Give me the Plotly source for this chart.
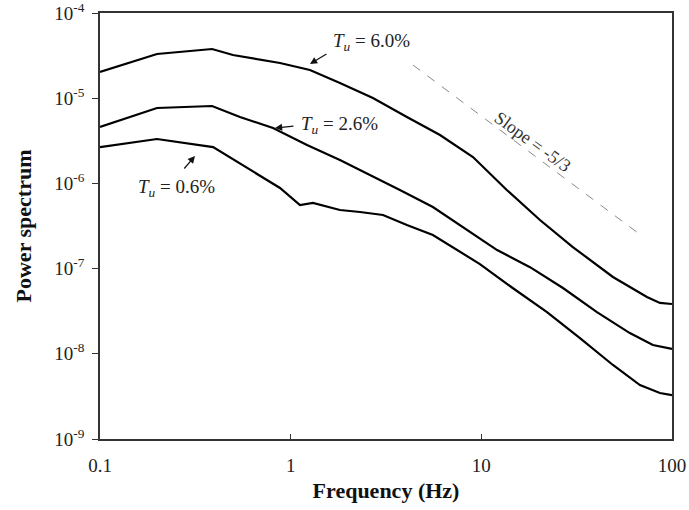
import plotly.graph_objects as go

# ---- data ----
freq_60 = [0.1, 0.199, 0.387, 0.498, 0.879, 1.262, 1.813, 2.70, 4.07, 6.07, 9.04, 13.6, 20.3, 30.2, 49.0, 73.9, 86.4, 100]
psd_60 = [2.03e-5, 3.30e-5, 3.78e-5, 3.21e-5, 2.59e-5, 2.14e-5, 1.51e-5, 1.005e-5, 6.02e-6, 3.70e-6, 2.04e-6, 8.37e-7, 3.72e-7, 1.79e-7, 7.97e-8, 4.64e-8, 3.95e-8, 3.84e-8]

freq_26 = [0.1, 0.199, 0.387, 0.542, 0.808, 1.218, 1.813, 2.31, 3.74, 5.57, 8.40, 12.1, 18.0, 26.8, 40.4, 60.1, 79.4, 100]
psd_26 = [4.59e-6, 7.67e-6, 8.10e-6, 6.02e-6, 4.47e-6, 2.82e-6, 1.88e-6, 1.44e-6, 8.37e-7, 5.28e-7, 2.84e-7, 1.65e-7, 1.04e-7, 5.92e-8, 3.09e-8, 1.75e-8, 1.27e-8, 1.14e-8]

freq_06 = [0.1, 0.199, 0.392, 0.612, 0.879, 1.119, 1.309, 1.813, 2.31, 3.05, 4.07, 5.57, 7.72, 9.83, 14.6, 22.1, 32.9, 49.0, 67.9, 86.4, 100]
psd_06 = [2.67e-6, 3.32e-6, 2.67e-6, 1.44e-6, 8.83e-7, 5.58e-7, 5.89e-7, 4.87e-7, 4.62e-7, 4.26e-7, 3.25e-7, 2.48e-7, 1.57e-7, 1.13e-7, 5.92e-8, 3.09e-8, 1.53e-8, 7.39e-9, 4.30e-9, 3.47e-9, 3.28e-9]

slope_freq = [4.38, 66.3]
slope_psd = [2.45e-5, 2.62e-7]

y_tickvals = [1e-9, 1e-8, 1e-7, 1e-6, 1e-5, 1e-4]
y_ticktext = ["10<sup>-9</sup>", "10<sup>-8</sup>", "10<sup>-7</sup>", "10<sup>-6</sup>", "10<sup>-5</sup>", "10<sup>-4</sup>"]
x_tickvals = [0.1, 1, 10, 100]
x_ticktext = ["0.1", "1", "10", "100"]

FONT = "Liberation Serif, Times New Roman, serif"

fig = go.Figure()
for fx, fy in [(freq_60, psd_60), (freq_26, psd_26), (freq_06, psd_06)]:
    fig.add_trace(go.Scatter(x=fx, y=fy, mode="lines",
                             line=dict(color="black", width=2.2), showlegend=False))
fig.add_trace(go.Scatter(x=slope_freq, y=slope_psd, mode="lines",
                         line=dict(color="#888888", width=1, dash="dash"), showlegend=False))

# labels (positions in log10 units, as Plotly uses for log axes)
labels = [
    ("<i>T<sub>u</sub></i> = 6.0%", 0.4263, -4.3404),
    ("<i>T<sub>u</sub></i> = 2.6%", 0.2585, -5.3146),
    ("<i>T<sub>u</sub></i> = 0.6%", -0.5962, -6.054),
]
for txt, ax_, ay_ in labels:
    fig.add_annotation(x=ax_, y=ay_, text=txt, showarrow=False,
                       font=dict(family=FONT, size=19, color="#222222"))

arrows = [
    (0.1012, -4.5986, 18, -11),
    (-0.0823, -5.3498, 20, -2),
    (-0.5018, -5.6784, -12, 14),
]
for hx, hy, tx, ty in arrows:
    fig.add_annotation(x=hx, y=hy, ax=tx, ay=ty, text="", showarrow=True,
                       arrowhead=2, arrowsize=1.2, arrowwidth=1.2, arrowcolor="#111111")

fig.add_annotation(x=1.2706, y=-5.5141, text="Slope = -5/3", showarrow=False,
                   textangle=36, font=dict(family=FONT, size=18, color="#333333"))

fig.update_layout(
    width=689, height=510,
    margin=dict(l=100, r=17, t=13, b=71),
    plot_bgcolor="white", paper_bgcolor="white",
    font=dict(family=FONT, color="#222222"),
    xaxis=dict(type="log", range=[-1, 2], tickvals=x_tickvals, ticktext=x_ticktext,
               ticks="inside", ticklen=5, tickcolor="#333333", ticklabelstandoff=8,
               ticklabeloverflow="allow",
               showline=True, linecolor="#333333", linewidth=1.5, mirror=True,
               showgrid=False, zeroline=False, automargin=False,
               tickfont=dict(family=FONT, size=19, color="#222222"),
               title=dict(text="<b>Frequency (Hz)</b>", font=dict(family=FONT, size=22, color="#111111"),
                          standoff=8)),
    yaxis=dict(type="log", range=[-9, -4], tickvals=y_tickvals, ticktext=y_ticktext,
               ticks="outside", ticklen=6, tickcolor="#333333", ticklabelstandoff=4,
               ticklabeloverflow="allow",
               showline=True, linecolor="#333333", linewidth=1.5, mirror=True,
               showgrid=False, zeroline=False, automargin=False,
               tickfont=dict(family=FONT, size=19, color="#222222"),
               title=dict(text="<b>Power spectrum</b>", font=dict(family=FONT, size=22, color="#111111"),
                          standoff=17)),
)

fig.write_html("out.html")
